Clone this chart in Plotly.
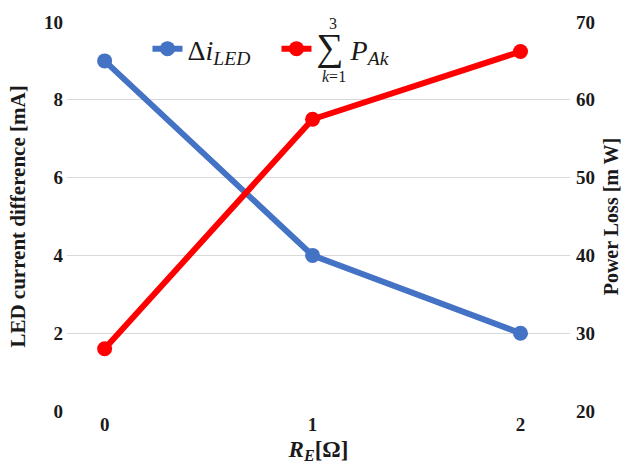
import plotly.graph_objects as go

categories = [0, 1, 2]
tick_labels = ["0", "1", "2"]
led_diff = [9, 4, 2]          # mA
power_loss = [28, 57.5, 66.2]  # mW

FONT = "Liberation Serif"
TXT = "#1a1a1a"

fig = go.Figure()
fig.add_trace(go.Scatter(
    x=categories, y=led_diff, mode="lines+markers",
    name="Δ<i>i</i><sub><i>LED</i></sub>",
    line=dict(color="#4472C4", width=6),
    marker=dict(color="#4472C4", size=15),
))
fig.add_trace(go.Scatter(
    x=categories, y=power_loss, mode="lines+markers", yaxis="y2",
    name="<span style='font-size:38px'>∑</span> <i>P</i><sub><i>Ak</i></sub>",
    line=dict(color="#FF0000", width=6),
    marker=dict(color="#FF0000", size=15),
))

tickfont = dict(family=FONT, size=19, color=TXT, weight="bold")

fig.update_layout(
    width=630, height=469,
    margin=dict(l=67, r=55, t=19, b=57),
    paper_bgcolor="white", plot_bgcolor="white",
    font=dict(family=FONT, size=18, color=TXT),
    showlegend=True,
    legend=dict(
        orientation="h", x=0.16, y=0.995, xanchor="left", yanchor="top",
        bgcolor="white", font=dict(family=FONT, size=28, color=TXT),
        itemwidth=30, tracegroupgap=0, entrywidth=84, entrywidthmode="pixels",
    ),
    xaxis=dict(
        range=[-0.181, 2.238], tickvals=categories, ticktext=tick_labels,
        showgrid=False, zeroline=False, showline=False, ticks="",
        tickfont=tickfont,
        title=dict(text="<b><i>R</i><sub><i>E</i></sub>[Ω]</b>",
                   font=dict(family=FONT, size=23, color=TXT), standoff=6),
    ),
    yaxis=dict(
        range=[0, 10], dtick=2, showgrid=True, gridcolor="#d9d9d9", gridwidth=1,
        zeroline=False, showline=False, ticks="",
        tickfont=tickfont, ticklabelstandoff=3,
        title=dict(text="<b>LED current difference [mA]</b>",
                   font=dict(family=FONT, size=21, color=TXT), standoff=12),
    ),
    yaxis2=dict(
        range=[20, 70], dtick=10, overlaying="y", side="right",
        showgrid=False, zeroline=False, showline=False, ticks="",
        tickfont=tickfont, ticklabelstandoff=5,
        title=dict(text="<b>Power Loss [m W]</b>",
                   font=dict(family=FONT, size=20, color=TXT), standoff=9),
    ),
)

fig.add_annotation(text="3", xref="paper", yref="paper", x=0.528, y=0.995,
                   xanchor="center", yanchor="middle",
                   showarrow=False, font=dict(family=FONT, size=16, color=TXT))
fig.add_annotation(text="<i>k</i>=1", xref="paper", yref="paper", x=0.531, y=0.86,
                   xanchor="center", yanchor="middle",
                   showarrow=False, font=dict(family=FONT, size=16, color=TXT))

fig.write_html("out.html")
